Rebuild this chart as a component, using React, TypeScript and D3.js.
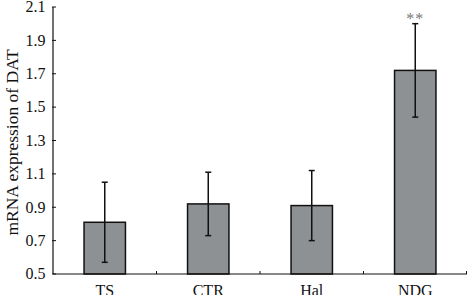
import React from "react";
import * as d3 from "d3";

const categories = ["TS", "CTR", "Hal", "NDG"];
const means = [0.81, 0.92, 0.91, 1.72];
const errors = [0.24, 0.19, 0.21, 0.28];
const significance = ["", "", "", "**"];
const yTicks = [0.5, 0.7, 0.9, 1.1, 1.3, 1.5, 1.7, 1.9, 2.1];

const W = 468;
const H = 295;
const margin = { left: 53, right: 1, top: 7, bottom: 21 };

export default function App() {
  const x = d3
    .scaleBand<string>()
    .domain(categories)
    .range([margin.left, W - margin.right])
    .paddingInner(0)
    .paddingOuter(0);
  const y = d3.scaleLinear().domain([0.5, 2.1]).range([H - margin.bottom, margin.top]);
  const bw = x.bandwidth() * 0.4;
  const font = "'Liberation Serif', 'DejaVu Serif', serif";
  const baseY = y(0.5);

  return (
    <div style={{ position: "fixed", left: 0, top: 0 }}>
      <svg width={W} height={H} style={{ display: "block" }}>
        <rect width={W} height={H} fill="#fff" />
        {categories.map((c, i) => {
          const cx = (x(c) as number) + x.bandwidth() / 2;
          const hi = y(means[i] + errors[i]);
          const lo = y(means[i] - errors[i]);
          return (
            <g key={c}>
              <rect
                x={cx - bw / 2}
                y={y(means[i])}
                width={bw}
                height={baseY - y(means[i])}
                fill="#8e9194"
                stroke="#111"
                strokeWidth={1.5}
              />
              <line x1={cx} x2={cx} y1={hi} y2={lo} stroke="#111" strokeWidth={1.5} />
              <line x1={cx - 3} x2={cx + 3} y1={hi} y2={hi} stroke="#111" strokeWidth={1.5} />
              <line x1={cx - 3} x2={cx + 3} y1={lo} y2={lo} stroke="#111" strokeWidth={1.5} />
              {significance[i] && (
                <text x={cx} y={hi} textAnchor="middle" fontFamily={font} fontSize={16} fill="#777" letterSpacing={1}>
                  {significance[i]}
                </text>
              )}
              <text x={cx} y={H + 0.5} textAnchor="middle" fontFamily={font} fontSize={16} fill="#111">
                {c}
              </text>
            </g>
          );
        })}
        <line x1={margin.left} x2={margin.left} y1={y(2.1)} y2={baseY} stroke="#111" strokeWidth={1.2} />
        {yTicks.map((t) => (
          <g key={t}>
            <line x1={margin.left - 1} x2={margin.left + 3} y1={y(t)} y2={y(t)} stroke="#111" strokeWidth={1} />
            <text x={45.5} y={y(t) + 5.3} textAnchor="end" fontFamily={font} fontSize={16} fill="#111">
              {t.toFixed(1)}
            </text>
          </g>
        ))}
        <line x1={margin.left} x2={W - margin.right} y1={baseY} y2={baseY} stroke="#111" strokeWidth={1.2} />
        {categories.slice(1).map((c) => (
          <line key={c} x1={x(c) as number} x2={x(c) as number} y1={baseY} y2={baseY - 3} stroke="#111" strokeWidth={1} />
        ))}
        <line x1={W - margin.right - 0.5} x2={W - margin.right - 0.5} y1={baseY} y2={baseY - 3} stroke="#111" strokeWidth={1} />
        <text
          transform={`translate(18, ${(y(2.1) + baseY) / 2 + 2}) rotate(-90)`}
          textAnchor="middle"
          fontFamily={font}
          fontSize={17.5}
          fill="#111"
        >
          mRNA expression of DAT
        </text>
      </svg>
    </div>
  );
}
